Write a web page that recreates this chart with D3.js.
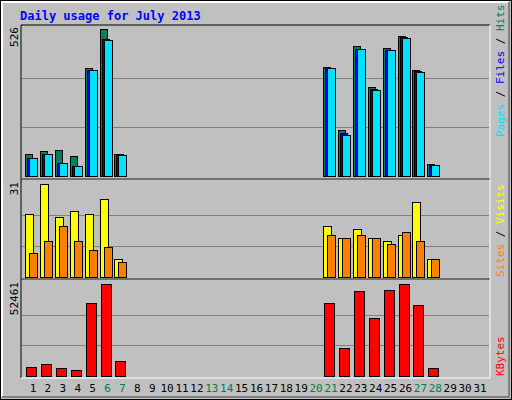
<!DOCTYPE html>
<html><head><meta charset="utf-8">
<script src="https://cdn.jsdelivr.net/npm/d3@7"></script>
<style>body{margin:0;background:#fff}</style></head>
<body><svg id="c" width="512" height="400"></svg>
<script>
const days = d3.range(1,32);
const weekend = [6,7,13,14,20,21,27,28];
const dataDays = [1,2,3,4,5,6,7,21,22,23,24,25,26,27,28];
const hits   = [79,89,93,72,386,526,79,390,165,465,318,458,501,379,43];
const files  = [64,79,46,36,379,487,75,386,147,454,308,451,494,372,39];
const pages  = [64,79,46,36,379,490,77,388,154,456,310,452,496,374,40];
const visits = [21,31,20,22,21,26,6,17,13,16,13,12,14,25,6];
const sites  = [8,12,17,12,9,10,5,14,13,14,13,11,15,12,6];
const kbytes = [4787,6510,4212,3063,41548,52461,8233,41548,15700,48441,32932,49015,52461,40400,4212];

const svg = d3.select("#c");
const font = "DejaVu Sans Mono, monospace";
svg.append("rect").attr("x",0).attr("y",0).attr("width",512).attr("height",400).attr("fill","#000");
svg.append("rect").attr("x",1).attr("y",1).attr("width",510).attr("height",398).attr("fill","#c0c0c0");
svg.append("path").attr("d","M2,397V2H509").attr("stroke","#fff").attr("stroke-width",2).attr("fill","none");
svg.append("path").attr("d","M2,397H509V2").attr("stroke","#808080").attr("stroke-width",2).attr("fill","none");

svg.append("text").attr("x",20).attr("y",20).attr("fill","#0000ff").attr("font-family",font)
  .attr("font-weight","bold").attr("font-size",12).text("Daily usage for July 2013");

const x = d3.scaleLinear().domain([1,31]).range([33,480]);

function panel(y0,y1){
  svg.append("path").attr("d",`M21,${y1}V${y0}H490`).attr("stroke","#000").attr("fill","none");
  svg.append("path").attr("d",`M21,${y1}H490V${y0}`).attr("stroke","#fff").attr("fill","none");
}
panel(25,179); panel(179,279); panel(279,378);

function grid(y){ [1,2].forEach(i=>{}); }
const y1 = d3.scaleLinear().domain([0,526]).range([176,29]);
const y2 = d3.scaleLinear().domain([0,31]).range([276.5,184.3]);
const y3 = d3.scaleLinear().domain([0,52461]).range([375.7,284.3]);
[[y1,526],[y2,31],[y3,52461]].forEach(([s,m])=>{
  [1/3,2/3].forEach(f=>{
    const yy=Math.round(s(m*f))+0.5;
    svg.append("line").attr("x1",22).attr("x2",489).attr("y1",yy).attr("y2",yy).attr("stroke","#808080");
  });
});

function bars(vals,scale,off,w,color){
  svg.append("g").selectAll("rect").data(vals).join("rect")
    .attr("x",(d,i)=>Math.round(x(dataDays[i]))+off+0.5)
    .attr("y",d=>Math.round(scale(d))+0.5)
    .attr("width",w).attr("height",d=>Math.round(scale(0))-Math.round(scale(d)))
    .attr("fill",color).attr("stroke","#000");
}
bars(hits,y1,-8,7,"#00805c");
bars(pages,y1,-6,7,"#0000ff");
bars(files,y1,-4,8,"#00e0ff");
bars(visits,y2,-8,8,"#ffff00");
bars(sites,y2,-4,8,"#ff8000");
bars(kbytes,y3,-7,10,"#ff0000");

svg.append("g").selectAll("text").data(days).join("text")
  .attr("x",d=>x(d)).attr("y",392).attr("text-anchor","middle")
  .attr("font-family",font).attr("font-size",11)
  .attr("fill",d=>weekend.includes(d)?"#008040":"#000").text(d=>d);

function vlab(txt,xx,yy){
  svg.append("text").attr("transform",`translate(${xx},${yy}) rotate(-90)`).attr("text-anchor","end")
    .attr("font-family",font).attr("font-size",11).attr("fill","#000").text(txt);
}
vlab("526",18,27); vlab("31",18,182); vlab("52461",18,282);

function rlab(parts,xx,yy){
  const t=svg.append("text").attr("transform",`translate(${xx},${yy}) rotate(-90)`)
    .attr("font-family",font).attr("font-size",11);
  parts.forEach(([s,c])=>t.append("tspan").attr("fill",c).text(s));
}
rlab([["Pages","#00e0ff"],[" / ","#000"],["Files","#0000ff"],[" / ","#000"],["Hits","#00805c"]],504,137);
rlab([["Sites","#ff8000"],[" / ","#000"],["Visits","#ffff00"]],504,277);
rlab([["KBytes","#ff0000"]],504,376);
</script></body></html>
